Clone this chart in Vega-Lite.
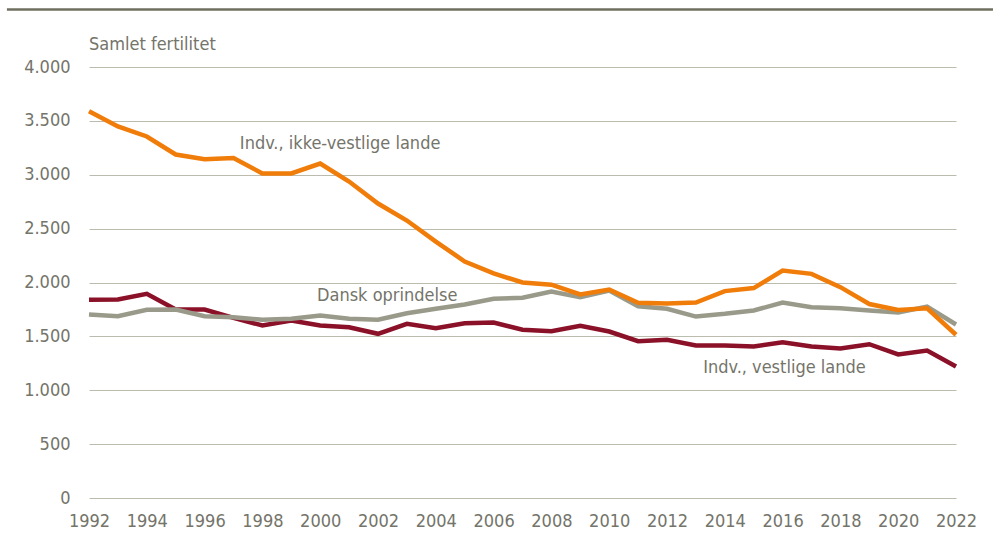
{
  "$schema": "https://vega.github.io/schema/vega-lite/v6.json",
  "width": 867,
  "height": 431,
  "autosize": "none",
  "padding": {"left": 89, "top": 67, "right": 37, "bottom": 41},
  "background": "white",
  "config": {
    "view": {"stroke": null},
    "font": "DejaVu Sans Condensed, Liberation Sans, sans-serif",
    "axis": {"labelFont": "DejaVu Sans Condensed, Liberation Sans, sans-serif", "labelColor": "#74746a", "labelFontSize": 18}
  },
  "datasets": {
    "series": [
      {"year": 1992, "group": "Indv., vestlige lande", "value": 1839},
      {"year": 1993, "group": "Indv., vestlige lande", "value": 1842},
      {"year": 1994, "group": "Indv., vestlige lande", "value": 1895},
      {"year": 1995, "group": "Indv., vestlige lande", "value": 1749},
      {"year": 1996, "group": "Indv., vestlige lande", "value": 1749},
      {"year": 1997, "group": "Indv., vestlige lande", "value": 1672},
      {"year": 1998, "group": "Indv., vestlige lande", "value": 1601},
      {"year": 1999, "group": "Indv., vestlige lande", "value": 1647},
      {"year": 2000, "group": "Indv., vestlige lande", "value": 1601},
      {"year": 2001, "group": "Indv., vestlige lande", "value": 1585},
      {"year": 2002, "group": "Indv., vestlige lande", "value": 1524},
      {"year": 2003, "group": "Indv., vestlige lande", "value": 1617},
      {"year": 2004, "group": "Indv., vestlige lande", "value": 1576},
      {"year": 2005, "group": "Indv., vestlige lande", "value": 1622},
      {"year": 2006, "group": "Indv., vestlige lande", "value": 1629},
      {"year": 2007, "group": "Indv., vestlige lande", "value": 1561},
      {"year": 2008, "group": "Indv., vestlige lande", "value": 1548},
      {"year": 2009, "group": "Indv., vestlige lande", "value": 1598},
      {"year": 2010, "group": "Indv., vestlige lande", "value": 1545},
      {"year": 2011, "group": "Indv., vestlige lande", "value": 1455},
      {"year": 2012, "group": "Indv., vestlige lande", "value": 1468},
      {"year": 2013, "group": "Indv., vestlige lande", "value": 1415},
      {"year": 2014, "group": "Indv., vestlige lande", "value": 1415},
      {"year": 2015, "group": "Indv., vestlige lande", "value": 1406},
      {"year": 2016, "group": "Indv., vestlige lande", "value": 1446},
      {"year": 2017, "group": "Indv., vestlige lande", "value": 1406},
      {"year": 2018, "group": "Indv., vestlige lande", "value": 1387},
      {"year": 2019, "group": "Indv., vestlige lande", "value": 1427},
      {"year": 2020, "group": "Indv., vestlige lande", "value": 1332},
      {"year": 2021, "group": "Indv., vestlige lande", "value": 1369},
      {"year": 2022, "group": "Indv., vestlige lande", "value": 1220},
      {"year": 1992, "group": "Dansk oprindelse", "value": 1703},
      {"year": 1993, "group": "Dansk oprindelse", "value": 1687},
      {"year": 1994, "group": "Dansk oprindelse", "value": 1746},
      {"year": 1995, "group": "Dansk oprindelse", "value": 1749},
      {"year": 1996, "group": "Dansk oprindelse", "value": 1687},
      {"year": 1997, "group": "Dansk oprindelse", "value": 1678},
      {"year": 1998, "group": "Dansk oprindelse", "value": 1654},
      {"year": 1999, "group": "Dansk oprindelse", "value": 1663},
      {"year": 2000, "group": "Dansk oprindelse", "value": 1694},
      {"year": 2001, "group": "Dansk oprindelse", "value": 1663},
      {"year": 2002, "group": "Dansk oprindelse", "value": 1654},
      {"year": 2003, "group": "Dansk oprindelse", "value": 1715},
      {"year": 2004, "group": "Dansk oprindelse", "value": 1756},
      {"year": 2005, "group": "Dansk oprindelse", "value": 1796},
      {"year": 2006, "group": "Dansk oprindelse", "value": 1849},
      {"year": 2007, "group": "Dansk oprindelse", "value": 1858},
      {"year": 2008, "group": "Dansk oprindelse", "value": 1916},
      {"year": 2009, "group": "Dansk oprindelse", "value": 1864},
      {"year": 2010, "group": "Dansk oprindelse", "value": 1926},
      {"year": 2011, "group": "Dansk oprindelse", "value": 1780},
      {"year": 2012, "group": "Dansk oprindelse", "value": 1756},
      {"year": 2013, "group": "Dansk oprindelse", "value": 1684},
      {"year": 2014, "group": "Dansk oprindelse", "value": 1709},
      {"year": 2015, "group": "Dansk oprindelse", "value": 1740},
      {"year": 2016, "group": "Dansk oprindelse", "value": 1814},
      {"year": 2017, "group": "Dansk oprindelse", "value": 1771},
      {"year": 2018, "group": "Dansk oprindelse", "value": 1762},
      {"year": 2019, "group": "Dansk oprindelse", "value": 1740},
      {"year": 2020, "group": "Dansk oprindelse", "value": 1722},
      {"year": 2021, "group": "Dansk oprindelse", "value": 1777},
      {"year": 2022, "group": "Dansk oprindelse", "value": 1610},
      {"year": 1992, "group": "Indv., ikke-vestlige lande", "value": 3590},
      {"year": 1993, "group": "Indv., ikke-vestlige lande", "value": 3448},
      {"year": 1994, "group": "Indv., ikke-vestlige lande", "value": 3355},
      {"year": 1995, "group": "Indv., ikke-vestlige lande", "value": 3188},
      {"year": 1996, "group": "Indv., ikke-vestlige lande", "value": 3145},
      {"year": 1997, "group": "Indv., ikke-vestlige lande", "value": 3155},
      {"year": 1998, "group": "Indv., ikke-vestlige lande", "value": 3012},
      {"year": 1999, "group": "Indv., ikke-vestlige lande", "value": 3012},
      {"year": 2000, "group": "Indv., ikke-vestlige lande", "value": 3104},
      {"year": 2001, "group": "Indv., ikke-vestlige lande", "value": 2937},
      {"year": 2002, "group": "Indv., ikke-vestlige lande", "value": 2733},
      {"year": 2003, "group": "Indv., ikke-vestlige lande", "value": 2575},
      {"year": 2004, "group": "Indv., ikke-vestlige lande", "value": 2380},
      {"year": 2005, "group": "Indv., ikke-vestlige lande", "value": 2195},
      {"year": 2006, "group": "Indv., ikke-vestlige lande", "value": 2084},
      {"year": 2007, "group": "Indv., ikke-vestlige lande", "value": 2000},
      {"year": 2008, "group": "Indv., ikke-vestlige lande", "value": 1980},
      {"year": 2009, "group": "Indv., ikke-vestlige lande", "value": 1890},
      {"year": 2010, "group": "Indv., ikke-vestlige lande", "value": 1935},
      {"year": 2011, "group": "Indv., ikke-vestlige lande", "value": 1812},
      {"year": 2012, "group": "Indv., ikke-vestlige lande", "value": 1805},
      {"year": 2013, "group": "Indv., ikke-vestlige lande", "value": 1814},
      {"year": 2014, "group": "Indv., ikke-vestlige lande", "value": 1920},
      {"year": 2015, "group": "Indv., ikke-vestlige lande", "value": 1948},
      {"year": 2016, "group": "Indv., ikke-vestlige lande", "value": 2111},
      {"year": 2017, "group": "Indv., ikke-vestlige lande", "value": 2080},
      {"year": 2018, "group": "Indv., ikke-vestlige lande", "value": 1957},
      {"year": 2019, "group": "Indv., ikke-vestlige lande", "value": 1800},
      {"year": 2020, "group": "Indv., ikke-vestlige lande", "value": 1745},
      {"year": 2021, "group": "Indv., ikke-vestlige lande", "value": 1760},
      {"year": 2022, "group": "Indv., ikke-vestlige lande", "value": 1515}
    ],
    "labels": [
      {"label": "Indv., ikke-vestlige lande", "lx": 1997.22, "ly": 3290},
      {"label": "Dansk oprindelse", "lx": 1999.89, "ly": 1879},
      {"label": "Indv., vestlige lande", "lx": 2013.25, "ly": 1202},
      {"label": "Samlet fertilitet", "lx": 1992, "ly": 4200}
    ],
    "topline": [
      {"x1": 1989.16, "x2": 2023.28, "y": 4534}
    ]
  },
  "layer": [
    {
      "data": {"name": "series"},
      "mark": {"type": "line", "strokeWidth": 4.5, "strokeJoin": "miter", "strokeCap": "butt"},
      "encoding": {
        "x": {
          "field": "year",
          "type": "quantitative",
          "scale": {"domain": [1992, 2022], "nice": false, "zero": false},
          "axis": {
            "title": null,
            "values": [1992, 1994, 1996, 1998, 2000, 2002, 2004, 2006, 2008, 2010, 2012, 2014, 2016, 2018, 2020, 2022],
            "format": "d",
            "ticks": false,
            "domain": false,
            "grid": false,
            "labelPadding": 14,
            "labelFlush": false
          }
        },
        "y": {
          "field": "value",
          "type": "quantitative",
          "scale": {"domain": [0, 4000], "nice": false},
          "axis": {
            "title": null,
            "values": [0, 500, 1000, 1500, 2000, 2500, 3000, 3500, 4000],
            "labelExpr": "replace(format(datum.value, ','), ',', '.')",
            "ticks": false,
            "domain": false,
            "grid": true,
            "gridColor": "#bcbcae",
            "gridWidth": 1.2,
            "labelPadding": 19
          }
        },
        "color": {
          "field": "group",
          "type": "nominal",
          "scale": {
            "domain": ["Indv., vestlige lande", "Dansk oprindelse", "Indv., ikke-vestlige lande"],
            "range": ["#8b1128", "#9a9a8a", "#f07c0a"]
          },
          "legend": null
        }
      }
    },
    {
      "data": {"name": "topline"},
      "mark": {"type": "rule", "color": "#6f6f60", "strokeWidth": 2.5},
      "encoding": {
        "x": {"field": "x1", "type": "quantitative"},
        "x2": {"field": "x2"},
        "y": {"field": "y", "type": "quantitative"}
      }
    },
    {
      "data": {"name": "labels"},
      "mark": {"type": "text", "align": "left", "baseline": "middle", "fontSize": 18, "color": "#74746a", "font": "DejaVu Sans Condensed, Liberation Sans, sans-serif"},
      "encoding": {
        "x": {"field": "lx", "type": "quantitative"},
        "y": {"field": "ly", "type": "quantitative"},
        "text": {"field": "label"}
      }
    }
  ]
}
